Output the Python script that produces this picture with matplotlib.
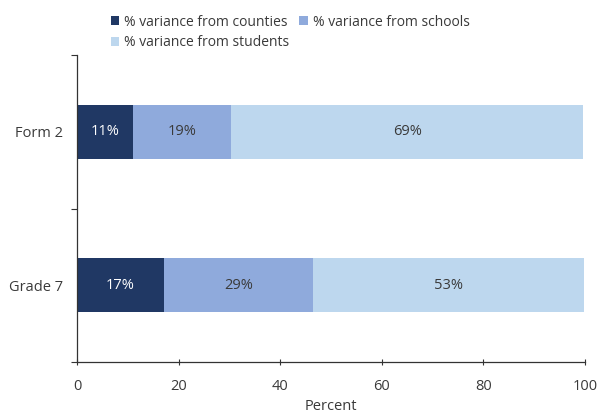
import matplotlib
matplotlib.use("Agg")
import matplotlib.pyplot as plt
import numpy as np

plt.rcParams['font.family'] = ['Open Sans', 'DejaVu Sans']

categories = ["Grade 7", "Form 2"]
counties = [17.1, 11.0]
schools = [29.4, 19.3]
students = [53.4, 69.4]
series_names = ["% variance from counties", "% variance from schools", "% variance from students"]
colors = ["#203864", "#8faadc", "#bdd7ee"]
text_colors = ["white", "#3a3a3a", "#3a3a3a"]
txt = '#3a3a3a'

fig = plt.figure(figsize=(6.0, 4.16), dpi=100)
ax = fig.add_axes([77/600, 1 - 362/416, (585-77)/600, (362-55)/416])

y = np.arange(len(categories))
left = np.zeros(len(categories))
handles = []
for vals, c, tc, name in zip([counties, schools, students], colors, text_colors, series_names):
    vals = np.array(vals)
    b = ax.barh(y, vals, left=left, height=0.35, color=c, label=name)
    handles.append(b)
    for yi, l, v in zip(y, left, vals):
        ax.text(l + v/2, yi, f"{int(v)}%", ha='center', va='center', color=tc, fontsize=10.5)
    left = left + vals

ax.set_xlim(0, 100)
ax.set_ylim(-0.5, 1.5)
ax.set_xticks([0, 20, 40, 60, 80, 100])
ax.set_yticks([-0.5, 0.5, 1.5])
ax.set_yticklabels([])
ax.set_yticks(y, minor=True)
ax.set_yticklabels(categories, minor=True)
ax.tick_params(axis='y', which='minor', length=0, pad=10, labelsize=10.5, labelcolor=txt)
ax.tick_params(axis='y', which='major', length=4, direction='out', width=0.8, color='#333333')
ax.tick_params(axis='x', length=4, direction='inout', width=0.8, labelsize=10.5, labelcolor=txt, pad=10, color='#333333')
for s in ['top', 'right']:
    ax.spines[s].set_visible(False)
for s in ['left', 'bottom']:
    ax.spines[s].set_color('#333333')
    ax.spines[s].set_linewidth(0.9)
ax.set_xlabel("Percent", fontsize=10.5, color=txt, labelpad=4)

order = [0, 2, 1]
fig.legend([handles[i] for i in order], [series_names[i] for i in order],
           loc='upper left', bbox_to_anchor=(98/600, 1 - 2/416), ncol=2, frameon=False,
           fontsize=10, handlelength=0.6, handleheight=0.6, handletextpad=0.4,
           columnspacing=0.7, labelspacing=0.4, labelcolor=txt)

fig.savefig("out.png", dpi=100)
